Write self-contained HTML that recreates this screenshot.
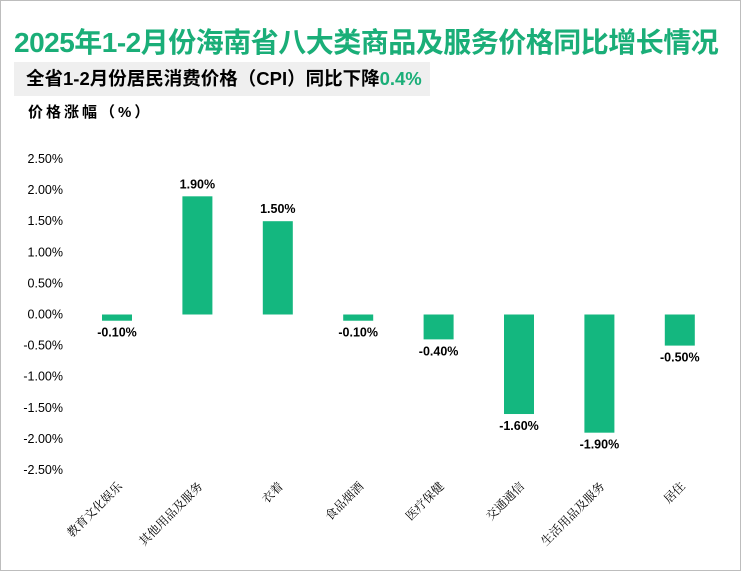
<!DOCTYPE html>
<html><head><meta charset="utf-8"><style>
body{margin:0;background:#fff;}
#wrap{position:relative;width:739px;height:569px;border:1px solid #bdbdbd;overflow:hidden;font-family:"Liberation Sans","Noto Sans CJK SC",sans-serif;}
#title{position:absolute;left:13px;top:20px;font-size:28px;font-weight:bold;color:#1aae78;white-space:nowrap;letter-spacing:-0.5px;}
#sub{position:absolute;left:13px;top:61px;width:416px;height:34px;background:#efefef;font-size:18.5px;font-weight:bold;line-height:34px;padding-left:12px;box-sizing:border-box;white-space:nowrap;}
#sub span{color:#1aae78;}
#ylab{position:absolute;left:27px;top:100px;font-size:15px;font-weight:bold;letter-spacing:3px;}
svg{position:absolute;left:0;top:0;}
</style></head><body>
<div id="wrap">
<div id="title">2025年1-2月份海南省八大类商品及服务价格同比增长情况</div>
<div id="sub">全省1-2月份居民消费价格（CPI）同比下降<span>0.4%</span></div>
<div id="ylab">价格涨幅（%）</div>
<svg id="chart" width="741" height="571"></svg>
</div>
<script>
const categories=["教育文化娱乐","其他用品及服务","衣着","食品烟酒","医疗保健","交通通信","生活用品及服务","居住"];
const values=[-0.10,1.90,1.50,-0.10,-0.40,-1.60,-1.90,-0.50];
const ticks=[2.5,2.0,1.5,1.0,0.5,0,-0.5,-1.0,-1.5,-2.0,-2.5];
const NS="http://www.w3.org/2000/svg";
const svg=document.getElementById('chart');
const y=v=>313.5-v*62.2;
const x=i=>116+i*80.4;
function mk(t,a){const e=document.createElementNS(NS,t);for(const k in a)e.setAttribute(k,a[k]);svg.appendChild(e);return e;}
ticks.forEach(t=>{const e=mk('text',{x:62,y:y(t)+4,'text-anchor':'end','font-size':12.5,'font-family':'Liberation Sans, sans-serif'});e.textContent=t.toFixed(2)+'%';

});
values.forEach((v,i)=>{
const r=mk('rect',{x:x(i)-15,y:Math.min(y(v),y(0)),width:30,height:Math.abs(y(v)-y(0)),fill:'#14b77f'});


const ly=v>=0?y(v)-8:y(v)+16;
const l=mk('text',{x:x(i),y:ly,'text-anchor':'middle','font-size':12.5,'font-weight':'bold','font-family':'Liberation Sans, sans-serif'});
l.textContent=v.toFixed(2)+'%';


const c=mk('text',{x:0,y:0,'text-anchor':'end','font-size':12,'font-family':'Liberation Serif, Noto Serif CJK SC, serif',transform:`translate(${x(i)+6},${486}) rotate(-45)`});
c.textContent=categories[i];


});
</script>
</body></html>
